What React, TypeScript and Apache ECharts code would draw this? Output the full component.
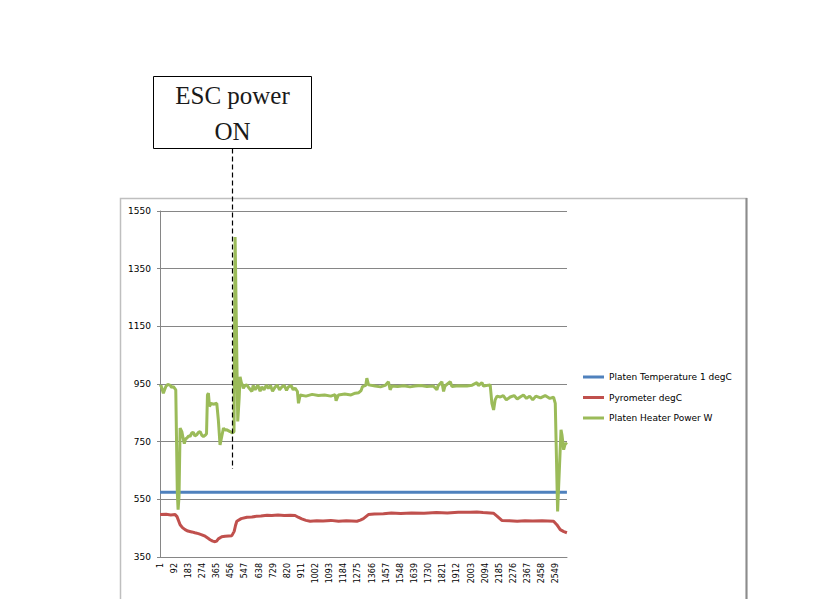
import React, { useEffect, useRef } from "react";
import * as echarts from "echarts";

const N = 2620;
const CATEGORIES: string[] = Array.from({ length: N }, (_, i) => String(i + 1));
const Y_TICK_LABELS = ["350", "550", "750", "950", "1150", "1350", "1550"];
const SERIES_NAMES = ["Platen Temperature 1 degC", "Pyrometer degC", "Platen Heater Power W"];
const SERIES_COLORS = ["#4F81BD", "#C0504D", "#9BBB59"];

// [sample index (1-based), value]
const PLATEN_TEMP: [number, number][] = [[1, 575], [1300, 575], [2620, 575]];

const PYROMETER: [number, number][] = [
  [1, 497], [40, 498], [70, 496], [98, 497], [110, 490], [130, 462], [145, 452], [162, 445], [180, 440],
  [205, 437], [225, 434], [248, 431], [270, 427], [291, 422], [310, 415], [323, 410], [340, 405],
  [355, 403], [365, 405], [376, 413], [398, 420], [420, 422], [463, 424], [478, 439], [487, 460],
  [495, 474], [523, 483], [560, 488], [592, 489], [620, 491], [650, 492], [690, 495], [720, 494],
  [760, 496], [800, 494], [840, 495], [870, 494],
  [890, 488], [913, 482], [940, 477], [967, 474], [1010, 476], [1050, 475], [1100, 477], [1150, 474],
  [1200, 476], [1268, 474], [1290, 478],
  [1310, 483], [1342, 497], [1380, 499], [1439, 500], [1490, 503], [1550, 501], [1620, 503], [1700, 502],
  [1780, 504], [1850, 503], [1920, 505], [1997, 505], [2040, 506], [2080, 504], [2147, 502], [2170, 492],
  [2201, 477], [2250, 476], [2300, 474], [2350, 476], [2400, 475], [2460, 476], [2534, 474], [2555, 462],
  [2577, 445], [2600, 438], [2620, 434],
];

const HEATER_POWER: [number, number][] = [
  [1, 940], [7, 945], [22, 918], [38, 941], [50, 948], [65, 946], [75, 938], [87, 941], [102, 930],
  [112, 572], [117, 514], [123, 560], [130, 797], [141, 785], [150, 760], [157, 743], [165, 760],
  [173, 762], [185, 770], [194, 768], [205, 780], [215, 782], [225, 770], [237, 774], [248, 782],
  [259, 785], [270, 772], [280, 768], [295, 774], [300, 778], [306, 912], [312, 918], [319, 872],
  [329, 883], [345, 880], [366, 883], [376, 826], [387, 739], [398, 768], [409, 797], [420, 790],
  [431, 791], [452, 785], [467, 780], [477, 785], [484, 1460], [501, 820], [510, 900], [516, 975],
  [524, 955], [531, 947], [537, 935], [548, 945], [559, 947], [575, 935], [592, 924], [600, 945],
  [613, 930], [630, 946], [645, 925], [656, 940], [670, 930], [685, 946], [698, 935], [712, 945],
  [725, 925], [742, 940], [755, 946], [770, 930], [785, 940], [800, 945], [815, 928], [827, 940],
  [845, 944], [858, 930], [870, 936], [885, 924], [892, 883], [903, 912], [940, 908], [980, 914],
  [1020, 910], [1060, 912], [1100, 908], [1128, 913], [1134, 892], [1149, 912], [1190, 915],
  [1230, 912], [1257, 918], [1280, 920], [1295, 927], [1304, 941], [1325, 945], [1332, 970],
  [1343, 947], [1386, 943], [1420, 940], [1450, 945], [1471, 958], [1482, 930], [1493, 943],
  [1530, 941], [1570, 944], [1610, 940], [1643, 943], [1680, 945], [1719, 941], [1760, 943],
  [1783, 930], [1790, 943], [1815, 958], [1826, 924], [1835, 943], [1869, 958], [1880, 941],
  [1920, 944], [1976, 943], [2010, 946], [2041, 955], [2050, 944], [2073, 955], [2083, 943],
  [2126, 947], [2137, 883], [2148, 860], [2158, 895], [2170, 908], [2191, 905], [2210, 910],
  [2230, 895], [2255, 905], [2280, 910], [2300, 898], [2319, 905], [2340, 912], [2360, 900],
  [2380, 908], [2400, 895], [2420, 908], [2450, 902], [2480, 910], [2510, 900], [2534, 904],
  [2545, 883], [2560, 508], [2582, 791], [2588, 774], [2599, 722], [2610, 745], [2620, 740],
];

const toPairs = (pts: [number, number][]) => pts.map(([i, v]) => [i - 1, v]);

export default function App() {
  const ref = useRef<HTMLDivElement>(null);
  useEffect(() => {
    if (!ref.current) return;
    const chart = echarts.init(ref.current, undefined, { renderer: "svg" });
    const font = "DejaVu Sans";
    const datasets = [PLATEN_TEMP, PYROMETER, HEATER_POWER];
    chart.setOption({
      animation: false,
      backgroundColor: "#ffffff",
      grid: { left: 160, top: 211, width: 407, height: 346, containLabel: false },
      legend: {
        orient: "vertical",
        left: 583,
        top: 372.5,
        padding: 0,
        itemWidth: 21,
        itemHeight: 3,
        itemGap: 11.5,
        icon: "rect",
        textStyle: { fontSize: 9, fontFamily: font, color: "#000" },
        data: SERIES_NAMES,
      },
      xAxis: {
        type: "category",
        data: CATEGORIES,
        boundaryGap: true,
        axisLine: { lineStyle: { color: "#868686", width: 1 } },
        axisTick: { interval: 499, length: 4, lineStyle: { color: "#868686" } },
        axisLabel: { interval: 90, rotate: 90, fontSize: 8, fontFamily: font, color: "#000", margin: 6 },
        splitLine: { show: false },
      },
      yAxis: [
        {
          type: "value",
          min: 0,
          max: 1200,
          interval: 200,
          axisLine: { show: true, lineStyle: { color: "#868686" } },
          axisTick: { show: true, length: 3, lineStyle: { color: "#868686" } },
          axisLabel: {
            formatter: (v: number) => Y_TICK_LABELS[Math.round(v / 200)],
            fontSize: 9,
            fontFamily: font,
            color: "#000",
            margin: 9,
          },
          splitLine: { lineStyle: { color: "#868686", width: 1 } },
        },
        { type: "value", min: 350, max: 1550, show: false, splitLine: { show: false } },
      ],
      series: SERIES_NAMES.map((name, k) => ({
        name,
        type: "line",
        yAxisIndex: 1,
        data: toPairs(datasets[k]),
        showSymbol: false,
        symbol: "none",
        lineStyle: { color: SERIES_COLORS[k], width: 3 },
        itemStyle: { color: SERIES_COLORS[k] },
        z: 2 + k,
      })),
      graphic: [
        {
          type: "rect",
          silent: true,
          z: 0,
          shape: { x: 120.5, y: 198.5, width: 626, height: 440 },
          style: { fill: "none", stroke: "#BFBFBF", lineWidth: 1.5 },
        },
        {
          type: "line",
          silent: true,
          shape: { x1: 746.5, y1: 198, x2: 746.5, y2: 599 },
          style: { stroke: "#8C8C8C", lineWidth: 2 },
        },
        {
          type: "rect",
          silent: true,
          shape: { x: 153.5, y: 76.5, width: 158, height: 72 },
          style: { fill: "#ffffff", stroke: "#000000", lineWidth: 1 },
        },
        {
          type: "text",
          silent: true,
          x: 232.5,
          y: 95,
          style: {
            text: "ESC power",
            fontSize: 25,
            fontFamily: "Liberation Serif",
            fill: "#1a1a1a",
            align: "center",
            verticalAlign: "middle",
          },
        },
        {
          type: "text",
          silent: true,
          x: 232.5,
          y: 131.5,
          style: {
            text: "ON",
            fontSize: 25,
            fontFamily: "Liberation Serif",
            fill: "#1a1a1a",
            align: "center",
            verticalAlign: "middle",
          },
        },
        {
          type: "line",
          silent: true,
          z: 100,
          shape: { x1: 232.5, y1: 148.5, x2: 232.5, y2: 469 },
          style: { stroke: "#000000", lineWidth: 1.2, lineDash: [5, 3] },
        },
      ],
    });
    return () => chart.dispose();
  }, []);
  return (
    <div
      ref={ref}
      style={{ position: "absolute", left: 0, top: 0, width: 834, height: 599 }}
    />
  );
}
